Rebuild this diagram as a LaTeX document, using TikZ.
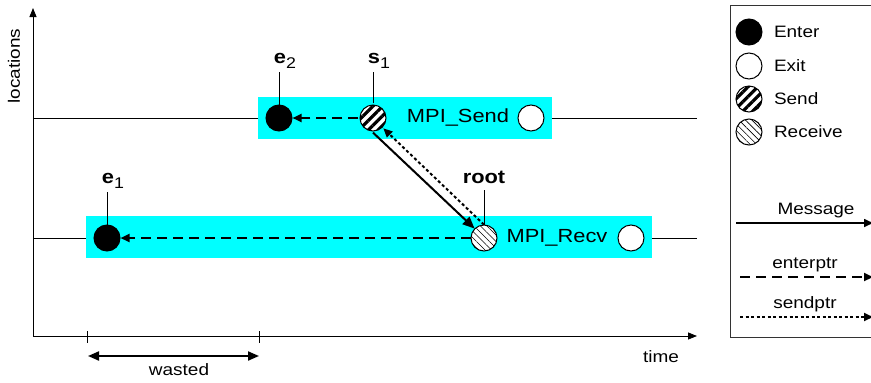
\documentclass[tikz,border=0pt]{standalone}
\usepackage{fontspec}
\setmainfont[FakeStretch=1.15]{Liberation Sans}
\usetikzlibrary{arrows.meta,positioning,patterns.meta}

\definecolor{aqua}{RGB}{0,255,255}
\newcommand{\sbs}[1]{\raisebox{-5pt}{\mdseries\fontsize{15.5}{16}\selectfont #1}}

\tikzset{
  event/.style={circle, draw, line width=1pt, minimum size=26pt, inner sep=0pt},
  enterev/.style={event, fill=black},
  exitev/.style={event, fill=white},
  sendev/.style={event, preaction={fill=white}, pattern={Lines[angle=45,distance=6.8pt,line width=3.2pt]}},
  recvev/.style={event, preaction={fill=white}, pattern={Lines[angle=-45,distance=4.6pt,line width=0.6pt]}},
  tip/.style={-{Triangle[length=9pt,width=8pt]}},
  msg/.style={tip, line width=2pt},
  enterptr/.style={tip, line width=2.2pt, dash pattern=on 10pt off 6pt},
  sendptr/.style={tip, line width=2pt, dash pattern=on 3pt off 2.5pt},
  lbl/.style={font=\fontsize{19}{22}\selectfont\bfseries},
  txt/.style={font=\fontsize{16.5}{19}\selectfont},
  big/.style={font=\fontsize{19}{22}\selectfont}
}

\begin{document}
\begin{tikzpicture}[x=1pt, y=-1pt]
\useasboundingbox (0,0) rectangle (871,383);
\clip (0,0) rectangle (871,383);

% --- axes ---
\coordinate (orig) at (33,336);
\coordinate (ytop) at (33,8);
\coordinate (xend) at (697,336);
\draw[line width=0.8pt, -{Triangle[length=9pt,width=7pt]}] (orig) -- (ytop);
\draw[line width=0.8pt, -{Triangle[length=9pt,width=7pt]}] (orig) -- (xend);
\node[txt, rotate=90] (ylab) at (14,66) {locations};
\node[txt] (xlab) at (661,357) {time};

% --- timelines ---
\draw[line width=0.8pt] (33,118) -- (697,118);
\draw[line width=0.8pt] (33,238) -- (697,238);
\fill[aqua] (258,97) rectangle (552,139);
\fill[aqua] (86,216) rectangle (652,258);

% --- events ---
\node[enterev] (e2) at (279,118) {};
\node[sendev] (s1) at (373,118) {};
\node[big] (sendname) at (458,118) {MPI\_Send};
\node[exitev] (xsend) at (531,118) {};

\node[enterev] (e1) at (107,238) {};
\node[recvev] (root) at (484,238) {};
\node[big] (recvname) at (557,238) {MPI\_Recv};
\node[exitev] (xrecv) at (631,238) {};

% labels
\node[lbl] (le2) at (285,61) {e\sbs{2}};
\node[lbl] (ls1) at (379,61) {s\sbs{1}};
\node[lbl] (le1) at (113,181) {e\sbs{1}};
\node[lbl] (lroot) at (484,177) {root};
\draw[line width=0.8pt] (e2.north) -- (e2.north |- 0,72);
\draw[line width=0.8pt] (s1.north) -- (s1.north |- 0,72);
\draw[line width=0.8pt] (e1.north) -- (e1.north |- 0,192);
\draw[line width=0.8pt] (root.north) -- (root.north |- 0,190);

% pointers
\draw[enterptr] (s1) -- (e2);
\draw[enterptr] (root) -- (e1);
\draw[msg, -{Triangle[length=12pt,width=10pt]}] (s1.south) -- (root.north west);
\draw[sendptr] (root.north) -- (s1.south east);

% --- wasted interval ---
\coordinate (wa) at (87,343);
\coordinate (wb) at (259,343);
\draw[line width=0.8pt] (87,331) -- (wa);
\draw[line width=0.8pt] (259,331) -- (wb);
\coordinate (wl) at (88,356);
\coordinate (wr) at (259,356);
\draw[line width=2pt, {Triangle[length=11pt,width=9pt]}-{Triangle[length=11pt,width=9pt]}] (wl) -- (wr);
\node[txt] (wlab) at (179,370) {wasted};

% --- legend ---
\draw[line width=0.8pt, black!80] (880,5) -| (730,337) -- (880,337);
\node[enterev] (lgenter) at (749,32) {};
\node[exitev] (lgexit) at (749,66) {};
\node[sendev] (lgsend) at (749,99) {};
\node[recvev] (lgrecv) at (749,132) {};
\node[txt, right=8pt of lgenter] (tenter) {Enter};
\node[txt, right=8pt of lgexit] (texit) {Exit};
\node[txt, right=8pt of lgsend] (tsend) {Send};
\node[txt, right=8pt of lgrecv] (trecv) {Receive};

\coordinate (lma) at (736,223);
\coordinate (lmb) at (873,223);
\draw[msg, line width=1.6pt] (lma) -- (lmb);
\node[txt] (tmsg) at (816,211) {Message};
\coordinate (lea) at (740,277);
\coordinate (leb) at (873,277);
\draw[enterptr] (lea) -- (leb);
\node[txt] (tenptr) at (805,265) {enterptr};
\coordinate (lsa) at (740,317);
\coordinate (lsb) at (873,317);
\draw[sendptr] (lsa) -- (lsb);
\node[txt] (tsdptr) at (805,304) {sendptr};

\end{tikzpicture}
\end{document}
